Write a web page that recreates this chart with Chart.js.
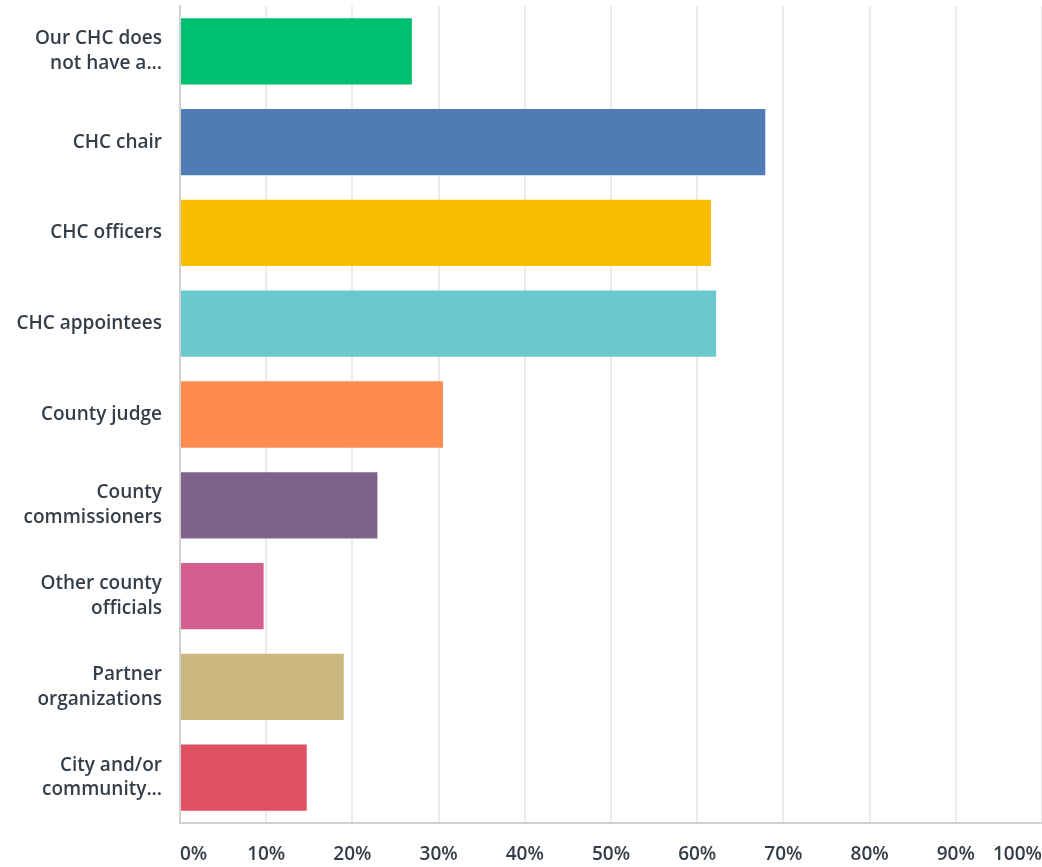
<!DOCTYPE html>
<html>
<head>
<meta charset="utf-8">
<script src="https://cdn.jsdelivr.net/npm/chart.js@4/dist/chart.umd.min.js"></script>
<style>
  body { margin: 0; background: #fff; }
  #chart { display: block; }
</style>
</head>
<body>
<canvas id="chart" width="1042" height="867"></canvas>
<script>
// answer labels (already truncated the way the survey tool shows them)
const labels = [
    ["Our CHC does", "not have a..."],
    "CHC chair",
    "CHC officers",
    "CHC appointees",
    "County judge",
    ["County", "commissioners"],
    ["Other county", "officials"],
    ["Partner", "organizations"],
    ["City and/or", "community..."]
];
const percents = [26.9, 67.9, 61.6, 62.2, 30.5, 22.9, 9.7, 19.0, 14.7];
const barColors = ["#00bf6f", "#507cb6", "#f9be00", "#6bc8cd", "#ff8b4f", "#7f628b", "#d25f90", "#c9b77d", "#e05161"];
const xTicks = [0, 10, 20, 30, 40, 50, 60, 70, 80, 90, 100];

let ctx = document.getElementById("chart").getContext("2d");

let myChart = new Chart(ctx, {
    type: 'bar',
    data: {
        labels: labels,
        datasets: [{
            data: percents,
            backgroundColor: barColors,
            borderWidth: 0,
            categoryPercentage: 1,
            barPercentage: 0.73
        }]
    },
    options: {
        indexAxis: 'y',
        responsive: false,
        animation: false,
        layout: { padding: { top: 6, right: 0, left: 0, bottom: 0 } },
        plugins: {
            legend: { display: false },
            tooltip: { enabled: false }
        },
        scales: {
            x: {
                min: 0,
                max: 100,
                afterBuildTicks: (scale) => {
                    scale.ticks = xTicks.map(v => ({ value: v }));
                },
                afterFit: (scale) => {
                    scale.height = 44;
                    scale.paddingLeft = 0;
                    scale.paddingRight = 0;
                },
                grid: {
                    color: '#ebebeb',
                    lineWidth: 2,
                    drawTicks: false
                },
                border: { color: '#d0d0d0', width: 2 },
                ticks: {
                    align: 'inner',
                    padding: 20,
                    color: '#333e48',
                    font: { family: 'Open Sans', size: 19, weight: '600' },
                    callback: (v) => v + '%'
                }
            },
            y: {
                afterFit: (scale) => {
                    scale.width = 180;
                    scale.paddingTop = 0;
                    scale.paddingBottom = 0;
                },
                grid: { display: false },
                border: { color: '#d0d0d0', width: 2 },
                ticks: {
                    padding: 10,
                    color: '#333e48',
                    font: { family: 'Open Sans', size: 19, weight: '600', lineHeight: 1.3 }
                }
            }
        }
    }
});
</script>
</body>
</html>
